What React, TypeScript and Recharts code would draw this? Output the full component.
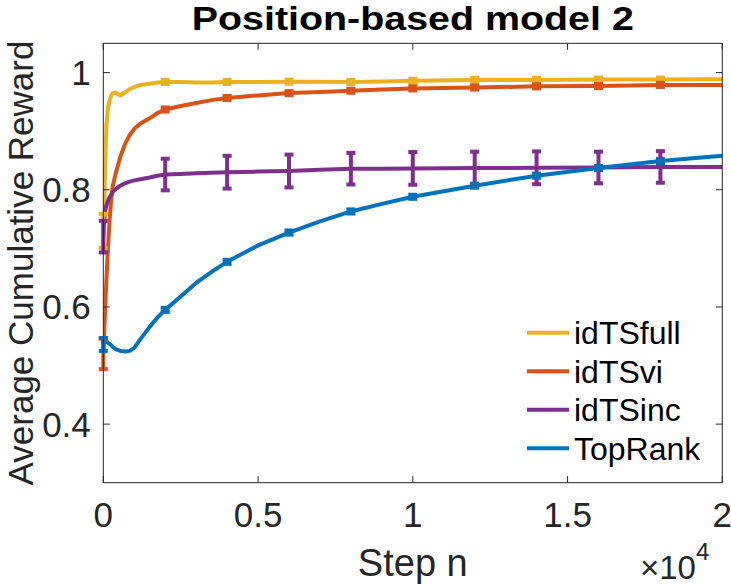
import React from 'react';
import { ComposedChart, Line, Scatter, ErrorBar, XAxis, YAxis, Legend } from 'recharts';

// ---- data ----
const steps = [0, 30, 60, 100, 150, 200, 250, 300, 400, 550, 700, 850, 1000, 1200, 1500, 1750, 2000, 2500, 3000, 3500, 4000, 5000, 6000, 7000, 8000, 9000, 10000, 12000, 14000, 16000, 18000, 20000];

const idTSfull = [0.73, 0.77, 0.84, 0.91, 0.94, 0.952, 0.96, 0.965, 0.966, 0.961, 0.966, 0.972, 0.975, 0.979, 0.981, 0.983, 0.984, 0.984, 0.983, 0.983, 0.984, 0.984, 0.9845, 0.9845, 0.984, 0.985, 0.986, 0.9875, 0.9875, 0.988, 0.988, 0.9885];
const idTSvi = [0.52, 0.56, 0.6, 0.645, 0.7, 0.745, 0.78, 0.805, 0.828, 0.856, 0.878, 0.893, 0.904, 0.913, 0.922, 0.931, 0.937, 0.943, 0.948, 0.953, 0.9566, 0.961, 0.965, 0.967, 0.969, 0.971, 0.973, 0.9745, 0.9765, 0.977, 0.979, 0.979];
const idTSinc = [0.72, 0.75, 0.765, 0.773, 0.781, 0.787, 0.791, 0.796, 0.801, 0.807, 0.811, 0.814, 0.816, 0.818, 0.821, 0.824, 0.826, 0.827, 0.828, 0.829, 0.83, 0.831, 0.832, 0.834, 0.836, 0.836, 0.8365, 0.837, 0.8375, 0.838, 0.839, 0.839];
const topRank = [0.536, 0.539, 0.541, 0.541, 0.539, 0.537, 0.535, 0.532, 0.528, 0.525, 0.524, 0.525, 0.53, 0.545, 0.566, 0.582, 0.595, 0.618, 0.641, 0.66, 0.677, 0.705, 0.727, 0.746, 0.763, 0.776, 0.788, 0.807, 0.824, 0.837, 0.849, 0.858];

// error-bar sample points
const barSteps = [0, 2000, 4000, 6000, 8000, 10000, 12000, 14000, 16000, 18000];
const fullBar = [0.73, 0.984, 0.984, 0.9845, 0.984, 0.986, 0.9875, 0.9875, 0.988, 0.988];
const fullErr = [0.029, 0.0035, 0.0035, 0.0035, 0.0035, 0.0035, 0.0035, 0.0035, 0.0035, 0.0035];
const viBar = [0.52, 0.937, 0.9566, 0.965, 0.969, 0.973, 0.9745, 0.9765, 0.977, 0.979];
const viErr = [0.026, 0.0035, 0.0035, 0.0035, 0.0035, 0.0035, 0.0035, 0.0035, 0.0035, 0.0035];
const incBar = [0.72, 0.826, 0.83, 0.832, 0.836, 0.8365, 0.837, 0.8375, 0.838, 0.839];
const incErr = [0.027, 0.027, 0.028, 0.028, 0.027, 0.028, 0.028, 0.028, 0.027, 0.027];
const topBar = [0.536, 0.595, 0.677, 0.727, 0.763, 0.788, 0.807, 0.824, 0.837, 0.849];
const topErr = [0.011, 0.0035, 0.0035, 0.0035, 0.0035, 0.0035, 0.0035, 0.0035, 0.0035, 0.0035];

const xTicks = [0, 5000, 10000, 15000, 20000];
const xTickLabels = ['0', '0.5', '1', '1.5', '2'];
const yTicks = [0.4, 0.6, 0.8, 1];
const yTickLabels = ['0.4', '0.6', '0.8', '1'];

const seriesNames = ['idTSfull', 'idTSvi', 'idTSinc', 'TopRank'];
const seriesColors = ['#EDB120', '#D95319', '#7E2F8E', '#0072BD'];

const lineValues = [idTSfull, idTSvi, idTSinc, topRank];
const barValues = [fullBar, viBar, incBar, topBar];
const barErrors = [fullErr, viErr, incErr, topErr];

const lineData = lineValues.map((vals) => steps.map((x, i) => ({ x, y: vals[i] })));
const barData = barValues.map((vals, s) => barSteps.map((x, i) => ({ x, y: vals[i], err: barErrors[s][i] })));

const FONT = '"Liberation Sans", Arial, Helvetica, sans-serif';
const AXIS = '#262626';
const TICK_LEN = 6.5;

const BottomTick = (props: any) => {
  const { x, y, payload } = props;
  const idx = xTicks.indexOf(payload.value);
  return (
    <g>
      <line x1={x} y1={y} x2={x} y2={y - TICK_LEN} stroke={AXIS} strokeWidth={1} />
      <text x={x} y={y + 44.5} textAnchor="middle" fontSize={35} fill={AXIS} fontFamily={FONT}>
        {xTickLabels[idx]}
      </text>
    </g>
  );
};
const TopTick = (props: any) => {
  const { x, y } = props;
  return <line x1={x} y1={y} x2={x} y2={y + TICK_LEN} stroke={AXIS} strokeWidth={1} />;
};
const LeftTick = (props: any) => {
  const { x, y, payload } = props;
  const idx = yTicks.indexOf(payload.value);
  return (
    <g>
      <line x1={x} y1={y} x2={x + TICK_LEN} y2={y} stroke={AXIS} strokeWidth={1} />
      <text x={x - 12.5} y={y + 12.5} textAnchor="end" fontSize={35} fill={AXIS} fontFamily={FONT}>
        {yTickLabels[idx]}
      </text>
    </g>
  );
};
const RightTick = (props: any) => {
  const { x, y } = props;
  return <line x1={x} y1={y} x2={x - TICK_LEN} y2={y} stroke={AXIS} strokeWidth={1} />;
};

const XLabel = () => (
  <g>
    <text x={412.8} y={576} textAnchor="middle" fontSize={38} fill={AXIS} fontFamily={FONT}>Step n</text>
    <text x={640} y={579} fontSize={33} fill={AXIS} fontFamily={FONT}>
      ×10<tspan fontSize={24} dy={-19}>4</tspan>
    </text>
  </g>
);
const TitleLabel = () => (
  <text x={412.8} y={30} textAnchor="middle" fontSize={34} fontWeight="bold" fill="#000" fontFamily={FONT}
    textLength={442} lengthAdjust="spacingAndGlyphs">
    Position-based model 2
  </text>
);
const YLabel = () => (
  <text x={33} y={263} textAnchor="middle" fontSize={35} fill={AXIS} fontFamily={FONT}
    transform="rotate(-90, 33, 263)">
    Average Cumulative Reward
  </text>
);

const LegendBox = () => (
  <svg width={200} height={165}>
    {seriesNames.map((name, i) => (
      <g key={name}>
        <line x1={7} x2={49} y1={22.7 + i * 38.5} y2={22.7 + i * 38.5} stroke={seriesColors[i]} strokeWidth={4} />
        <text x={54} y={34.3 + i * 38.5} fontSize={32} fill="#000" fontFamily={FONT}>{name}</text>
      </g>
    ))}
  </svg>
);

const NoShape = () => <g />;

export default function App() {
  return (
    <div style={{ position: 'absolute', left: 0, top: 0, width: 731, height: 585, background: '#fff' }}>
      <ComposedChart width={731} height={585} margin={{ top: 0, right: 0, bottom: 0, left: 0 }}>
        <XAxis xAxisId={0} type="number" dataKey="x" domain={[0, 20000]} allowDataOverflow ticks={xTicks} interval={0}
          orientation="bottom" height={102.3} tickSize={0} tickMargin={0} tickLine={false}
          axisLine={{ stroke: AXIS, strokeWidth: 1 }} tick={<BottomTick />} label={<XLabel />} />
        <XAxis xAxisId="top" type="number" dataKey="x" domain={[0, 20000]} allowDataOverflow ticks={xTicks} interval={0}
          orientation="top" height={43.3} tickSize={0} tickMargin={0} tickLine={false}
          axisLine={{ stroke: AXIS, strokeWidth: 1 }} tick={<TopTick />} label={<TitleLabel />} />
        <YAxis yAxisId={0} type="number" domain={[0.3, 1.05]} allowDataOverflow ticks={yTicks} interval={0}
          orientation="left" width={103.3} tickSize={0} tickMargin={0} tickLine={false}
          axisLine={{ stroke: AXIS, strokeWidth: 1 }} tick={<LeftTick />} label={<YLabel />} />
        <YAxis yAxisId="right" type="number" domain={[0.3, 1.05]} allowDataOverflow ticks={yTicks} interval={0}
          orientation="right" width={8.7} tickSize={0} tickMargin={0} tickLine={false}
          axisLine={{ stroke: AXIS, strokeWidth: 1 }} tick={<RightTick />} />
        {seriesNames.map((name, s) => (
          <Line key={'l' + name} data={lineData[s]} dataKey="y" name={name} type="linear" stroke={seriesColors[s]}
            strokeWidth={4} dot={false} activeDot={false} isAnimationActive={false} strokeLinejoin="round" />
        ))}
        {seriesNames.map((name, s) => (
          <Scatter key={'s' + name} data={barData[s]} dataKey="y" name={name + ' err'} shape={<NoShape />}
            isAnimationActive={false} legendType="none">
            <ErrorBar dataKey="err" direction="y" width={4.5} stroke={seriesColors[s]} strokeWidth={4} isAnimationActive={false} />
          </Scatter>
        ))}
        <Legend layout="vertical" align="center" verticalAlign="middle" content={<LegendBox />}
          wrapperStyle={{ position: 'absolute', left: 520, top: 310, width: 200, height: 165 }} />
      </ComposedChart>
    </div>
  );
}
